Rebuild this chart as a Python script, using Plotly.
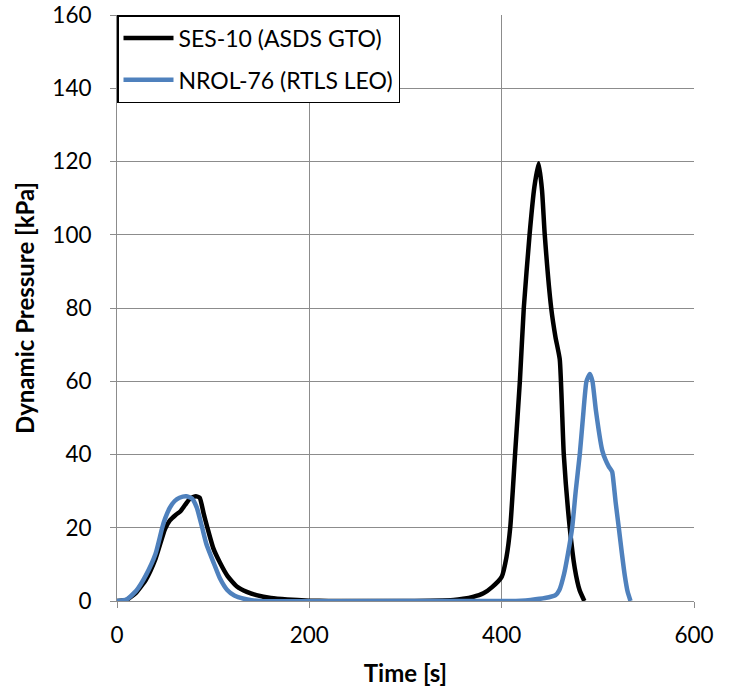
import plotly.graph_objects as go

# SES-10 (ASDS GTO)
ses_t = [0, 10, 20, 30, 40, 50, 55, 61, 66, 71, 76, 82, 86, 90, 94, 100, 107, 115, 125, 135, 145, 160, 177, 200, 220,
         300, 350, 360, 370, 381, 390, 400, 405, 409, 414, 419, 423, 429, 434, 438.5, 442, 444.8, 451.5, 456, 460.4,
         464.6, 470.8, 476, 481, 486]
ses_q = [0, 0.3, 2.3, 5.8, 11.5, 19.7, 22, 23.5, 24.5, 26.3, 28, 28.6, 28.2, 24, 20, 14.5, 10.5, 6.8, 3.9, 2.5, 1.6, 0.8, 0.4, 0.1, 0,
         0, 0.3, 0.6, 1.1, 2.1, 3.8, 6.6, 12, 20.3, 40.4, 60.3, 80, 100, 113, 119.5, 112, 100, 80, 72, 66,
         40, 20, 9, 3, 0]

# NROL-76 (RTLS LEO)
nrol_t = [0, 10, 20, 30, 40, 47, 50, 55, 60, 65, 72, 78, 83, 88.6, 93, 100.7, 107, 114.6, 122, 131.9, 140, 150,
          300, 400, 420, 430, 445, 456, 460, 465, 469, 473.3, 477, 481.2, 484.5, 488.2, 491.7, 494.4, 498, 504.5,
          508, 511.4, 514.9, 516.5, 518.5, 521.8, 525, 528, 531, 534]
nrol_q = [0, 0.4, 2.8, 7, 12.8, 20, 22.5, 25.5, 27.3, 28.2, 28.6, 28, 25.5, 20, 15.5, 10.3, 6.2, 3, 1.5, 0.6, 0.2, 0,
          0, 0, 0.1, 0.3, 0.8, 1.6, 3, 7.5, 13, 20, 30, 40, 50, 60, 62, 60, 52, 41.2,
          38.5, 36.7, 35.3, 32, 27, 20, 13, 7, 2.5, 0]

x_ticks = [0, 200, 400, 600]
y_ticks = [0, 20, 40, 60, 80, 100, 120, 140, 160]

FONT = "Lato"
GRID = "#8c8c8c"

fig = go.Figure()
fig.add_trace(go.Scatter(x=ses_t, y=ses_q, mode="lines", name="SES-10 (ASDS GTO)",
                         legendgroup="a",
                         line=dict(color="#000000", width=4.5, shape="spline", smoothing=0.5)))
fig.add_trace(go.Scatter(x=nrol_t, y=nrol_q, mode="lines", name="NROL-76 (RTLS LEO)",
                         legendgroup="b",
                         line=dict(color="#4F81BD", width=4.5, shape="spline", smoothing=0.5)))

fig.update_layout(
    width=731, height=690,
    margin=dict(l=117, r=37, t=15, b=89),
    paper_bgcolor="white", plot_bgcolor="white",
    font=dict(family=FONT, size=22, color="black"),
    showlegend=True,
    legend=dict(x=0, y=1, xanchor="left", yanchor="top",
                bgcolor="white", bordercolor="black", borderwidth=1.5,
                font=dict(family=FONT, size=23, color="black"),
                tracegroupgap=9, itemwidth=50),
    xaxis=dict(range=[0, 600], tickvals=x_ticks, ticktext=[str(v) for v in x_ticks],
               showgrid=True, gridcolor=GRID, gridwidth=1,
               showline=True, linecolor=GRID, linewidth=1,
               ticks="outside", ticklen=6, tickcolor=GRID, zeroline=False, automargin=False,
               tickfont=dict(family=FONT, size=22.5), ticklabelstandoff=8,
               title=dict(text="<b>Time [s]</b>", font=dict(family=FONT, size=24), standoff=18)),
    yaxis=dict(range=[0, 160], tickvals=y_ticks, ticktext=[str(v) for v in y_ticks],
               showgrid=True, gridcolor=GRID, gridwidth=1,
               showline=True, linecolor=GRID, linewidth=1,
               ticks="outside", ticklen=6, tickcolor=GRID, zeroline=False, automargin=False,
               tickfont=dict(family=FONT, size=22.5), ticklabelstandoff=14,
               title=dict(text="<b>Dynamic Pressure [kPa]</b>", font=dict(family=FONT, size=24), standoff=10)),
)

fig.write_html("out.html")
